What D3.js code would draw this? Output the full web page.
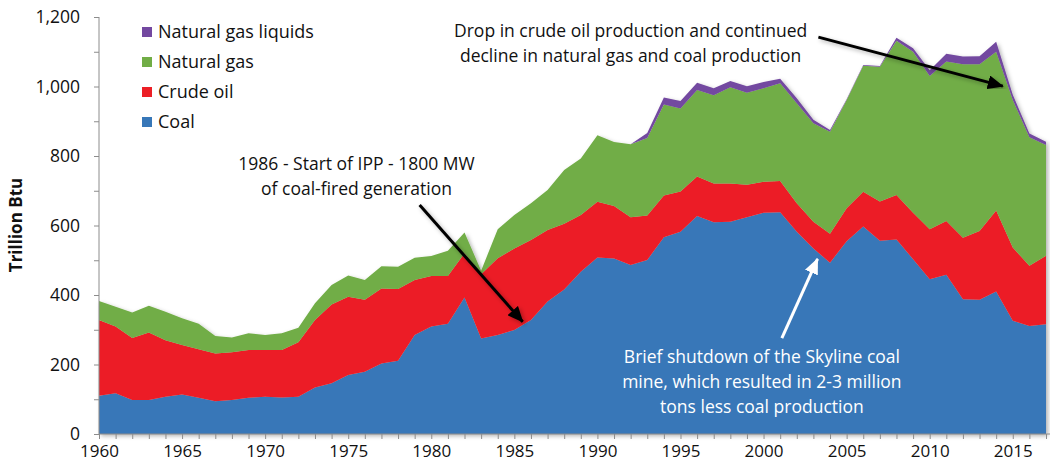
<!DOCTYPE html>
<html>
<head>
<meta charset="utf-8">
<script src="https://cdn.jsdelivr.net/npm/d3@7"></script>
<style>
  body { margin: 0; background: #fff; }
  svg { display: block; font-family: "Open Sans", sans-serif; }
  .axis path, .axis line { stroke: #8c8c8c; }
  .axis text { fill: #111; font-size: 17.5px; font-family: "Open Sans", sans-serif; }
</style>
</head>
<body>
<div id="main"></div>
<script>
var width = 1050,
    height = 468;

// data, trillion Btu
var years = d3.range(1960, 2018);
var coal = [110, 117, 98, 98, 107, 114, 104, 94, 98, 104,
            107, 105, 107, 134, 146, 170, 179, 203, 211, 285,
            309, 317, 393, 275, 285, 299, 328, 381, 416, 467,
            508, 505, 486, 501, 566, 582, 627, 609, 611, 624,
            637, 638, 582, 534, 493, 555, 597, 556, 560, 503,
            445, 458, 388, 386, 410, 326, 311, 316];
var crudeOil = [218, 192, 178, 194, 163, 142, 140, 138, 137, 138,
                135, 137, 157, 194, 227, 225, 207, 216, 206, 158,
                146, 138, 127, 185, 221, 235, 230, 206, 189, 163,
                160, 151, 138, 128, 120, 116, 114, 112, 110, 93,
                89, 90, 82, 77, 83, 95, 100, 113, 128, 134,
                144, 155, 177, 198, 233, 211, 173, 197];
var naturalGas = [55, 57, 74, 77, 82, 77, 73, 50, 43, 48,
                  43, 48, 42, 48, 56, 61, 57, 64, 64, 64,
                  57, 72, 60, 10, 83, 96, 106, 115, 155, 163,
                  192, 184, 210, 223, 262, 239, 249, 254, 277, 265,
                  269, 281, 288, 283, 294, 311, 363, 388, 444, 463,
                  441, 459, 499, 480, 457, 424, 370, 319];
var ngl = [0, 0, 0, 0, 0, 0, 0, 0, 0, 0,
           0, 0, 0, 0, 0, 0, 0, 0, 0, 0,
           0, 0, 0, 0, 0, 0, 0, 0, 0, 0,
           0, 0, 0, 14, 20, 21, 21, 20, 18, 19,
           18, 13, 14, 10, 5, 2, 2, 2, 8, 10,
           17, 22, 22, 23, 29, 15, 11, 9];

var keys = ["coal", "oil", "gas", "ngl"];
var names = {coal: "Coal", oil: "Crude oil", gas: "Natural gas", ngl: "Natural gas liquids"};
var colors = {coal: "#3777b8", oil: "#ec1f26", gas: "#71ad46", ngl: "#7348a0"};
var yTicks = [0, 200, 400, 600, 800, 1000, 1200];

var table = years.map(function(yr, i) {
    return {year: yr, coal: coal[i], oil: crudeOil[i], gas: naturalGas[i], ngl: ngl[i]};
});

var x = d3.scaleLinear().domain([1960, 2017]).range([99, 1046]);
var y = d3.scaleLinear().domain([0, 1200]).range([434, 17]);

var svg = d3.select("#main").append("svg")
    .attr("width", width)
    .attr("height", height);

var defs = svg.append("defs");
defs.append("filter").attr("id", "shadow")
    .attr("x", "-5%").attr("y", "-5%").attr("width", "110%").attr("height", "110%")
    .append("feDropShadow")
    .attr("dx", 2).attr("dy", 2).attr("stdDeviation", 2)
    .attr("flood-color", "#000").attr("flood-opacity", 0.3);

function arrowMarker(id, fill) {
    defs.append("marker")
        .attr("id", id)
        .attr("viewBox", "0 0 16 14")
        .attr("refX", 15).attr("refY", 7)
        .attr("markerWidth", 16).attr("markerHeight", 14)
        .attr("markerUnits", "userSpaceOnUse")
        .attr("orient", "auto")
        .append("path")
        .attr("d", "M0,0 L16,7 L0,14 Z")
        .attr("fill", fill);
}
arrowMarker("headBlack", "#000");
arrowMarker("headWhite", "#fff");

var series = d3.stack().keys(keys)(table);

var area = d3.area()
    .x(function(d) { return x(d.data.year); })
    .y0(function(d) { return y(d[0]); })
    .y1(function(d) { return y(d[1]); });

svg.append("g")
    .attr("filter", "url(#shadow)")
    .selectAll("path")
    .data(series)
    .enter().append("path")
    .attr("fill", function(d) { return colors[d.key]; })
    .attr("d", area);

// y axis
var yAxis = svg.append("g").attr("class", "axis")
    .attr("transform", "translate(99,0)")
    .call(d3.axisLeft(y).tickValues(yTicks).tickSize(5).tickPadding(14).tickFormat(d3.format(",")));
svg.append("g").attr("class", "axis")
    .attr("transform", "translate(99,0)")
    .call(d3.axisLeft(y).tickValues([100, 300, 500, 700, 900, 1100]).tickSize(5).tickFormat(""))
    .select(".domain").remove();
yAxis.select(".domain").attr("d", "M0," + y(1200) + "V" + y(0));

// x axis
var xAxis = svg.append("g").attr("class", "axis")
    .attr("transform", "translate(0,434)")
    .call(d3.axisBottom(x).tickValues(years).tickSize(5).tickPadding(6)
        .tickFormat(function(d) { return d % 5 == 0 ? d : ""; }));
xAxis.select(".domain").attr("d", "M99,0H" + width);
xAxis.selectAll("text").style("font-size", "17px");

svg.append("text")
    .attr("transform", "translate(22,225) rotate(-90)")
    .attr("text-anchor", "middle")
    .style("font-size", "17px")
    .style("font-weight", "bold")
    .attr("fill", "#111")
    .text("Trillion Btu");

// legend
var legend = svg.selectAll(".legend")
    .data(keys.slice().reverse())
    .enter().append("g")
    .attr("class", "legend")
    .attr("transform", function(d, i) { return "translate(142," + (32 + i * 30) + ")"; });
legend.append("rect")
    .attr("x", 0).attr("y", -5)
    .attr("width", 10).attr("height", 10)
    .attr("fill", function(d) { return colors[d]; });
legend.append("text")
    .attr("x", 16).attr("dy", "0.35em")
    .style("font-size", "18px")
    .attr("fill", "#111")
    .text(function(d) { return names[d]; });

// annotations (positions in data units)
var notes = [
    {lines: ["1986 - Start of IPP - 1800 MW", "of coal-fired generation"], year: 1975.5, value: 760, color: "#111"},
    {lines: ["Drop in crude oil production and continued", "decline in natural gas and coal production"], year: 1992.0, value: 1142, color: "#111"},
    {lines: ["Brief shutdown of the Skyline coal", "mine, which resulted in 2-3 million", "tons less coal production"], year: 1999.9, value: 205, color: "#fff"}
];
var arrows = [
    {from: [1979.3, 659], to: [1985.5, 323], head: "headBlack", color: "#000"},
    {from: [2003.3, 1142], to: [2014.4, 1001], head: "headBlack", color: "#000"},
    {from: [2001.1, 276], to: [2003.25, 504], head: "headWhite", color: "#fff"}
];

notes.forEach(function(n) {
    var t = svg.append("text")
        .attr("text-anchor", "middle")
        .attr("fill", n.color)
        .style("font-size", "17.5px");
    n.lines.forEach(function(l, i) {
        t.append("tspan")
            .attr("x", x(n.year))
            .attr("y", y(n.value) + i * 25)
            .text(l);
    });
});

svg.selectAll(".arrow")
    .data(arrows)
    .enter().append("line")
    .attr("class", "arrow")
    .attr("x1", function(d) { return x(d.from[0]); })
    .attr("y1", function(d) { return y(d.from[1]); })
    .attr("x2", function(d) { return x(d.to[0]); })
    .attr("y2", function(d) { return y(d.to[1]); })
    .attr("stroke", function(d) { return d.color; })
    .attr("stroke-width", 3)
    .attr("marker-end", function(d) { return "url(#" + d.head + ")"; })
    .attr("filter", function(d) { return d.color == "#000" ? "url(#shadow)" : null; });
</script>
</body>
</html>
